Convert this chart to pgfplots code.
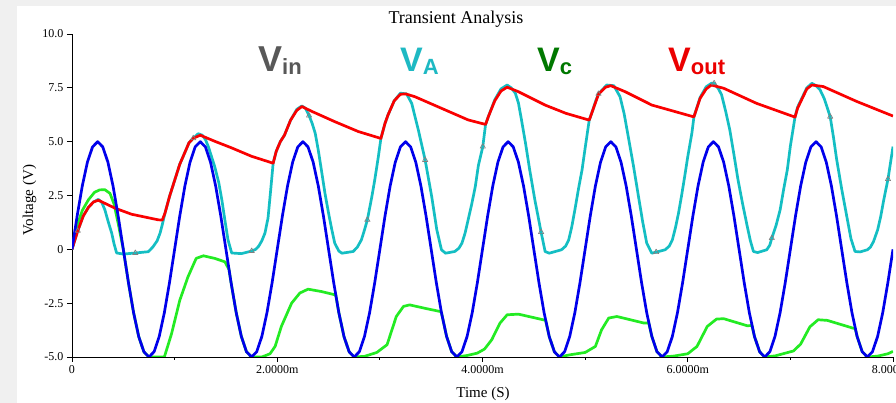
\documentclass[border=0pt]{standalone}
\usepackage{pgfplots}
\pgfplotsset{compat=1.18}
\usepackage{fontspec}
\setmainfont{Liberation Serif}
\newfontfamily\lsans{Liberation Sans}
\definecolor{vin}{RGB}{0,0,235}
\definecolor{va}{RGB}{20,190,195}
\definecolor{vc}{RGB}{35,235,35}
\definecolor{vout}{RGB}{250,0,0}
\definecolor{lgray}{RGB}{88,88,88}
\definecolor{lteal}{RGB}{30,185,195}
\definecolor{lgreen}{RGB}{0,120,0}
\definecolor{lred}{RGB}{235,0,0}
\definecolor{bg}{RGB}{240,240,240}
\begin{document}
\begin{tikzpicture}
\useasboundingbox (0pt,0pt) rectangle (896pt,403pt);
\fill[bg] (0pt,0pt) rectangle (896pt,403pt);
\fill[white] (17pt,0pt) rectangle (896pt,397pt);
\begin{axis}[
  at={(72pt,46pt)}, anchor=south west, scale only axis,
  width=821pt, height=323pt,
  xmin=0, xmax=8, ymin=-5, ymax=10,
  axis lines=left, axis line style={-, black, line width=0.8pt},
  tick align=outside,
  xtick={0,2,4,6,8}, xticklabels={0,2.0000m,4.0000m,6.0000m,8.0000m},
  minor xtick={1,3,5,7},
  ytick={-5,-2.5,0,2.5,5,7.5,10}, yticklabels={-5.0,-2.5,0,2.5,5.0,7.5,10.0},
  major tick length=5pt, minor tick length=3pt,
  tick style={black, line width=0.8pt},
  /pgf/number format/assume math mode=true,
  ticklabel style={font=\fontsize{12}{14}\selectfont},
  every axis plot/.append style={line width=2.7pt, line join=round, mark=none},
]
% Vc (green)
\addplot[vc] coordinates {
(0,0) (0.05,1.1) (0.1,1.8) (0.16,2.3) (0.22,2.65) (0.27,2.76) (0.32,2.77) (0.37,2.6) (0.41,2.1) (0.45,1.2) (0.5,0) (0.55,-1.545) (0.6,-2.939) (0.65,-4.045) (0.7,-4.755) (0.75,-5) (0.9,-5) (0.97,-3.92) (1.05,-2.37) (1.13,-1.28) (1.21,-0.42) (1.28,-0.3) (1.39,-0.42) (1.49,-0.58) (1.53,-0.94) (1.55,-1.545) (1.6,-2.939) (1.65,-4.045) (1.7,-4.755) (1.75,-5) (1.85,-5) (1.93,-4.85) (1.98,-4.5) (2.04,-3.58) (2.14,-2.5) (2.22,-2.03) (2.30,-1.85) (2.43,-1.96) (2.57,-2.12) (2.6,-2.939) (2.65,-4.045) (2.7,-4.755) (2.75,-5) (2.85,-4.97) (2.97,-4.79) (3.07,-4.43) (3.16,-3.12) (3.23,-2.65) (3.29,-2.58) (3.45,-2.75) (3.59,-2.89) (3.6,-2.939) (3.65,-4.045) (3.7,-4.755) (3.75,-5) (3.85,-4.93) (3.95,-4.82) (4.02,-4.63) (4.09,-4.2) (4.17,-3.43) (4.24,-3.04) (4.35,-3.01) (4.59,-3.27) (4.615,-3.3) (4.65,-4.045) (4.7,-4.755) (4.75,-5) (4.85,-4.9) (5.0,-4.79) (5.10,-4.51) (5.16,-3.74) (5.23,-3.19) (5.31,-3.12) (5.57,-3.42) (5.62,-3.42) (5.65,-4.045) (5.7,-4.755) (5.75,-5) (5.86,-4.96) (6.0,-4.85) (6.09,-4.51) (6.19,-3.58) (6.28,-3.24) (6.35,-3.22) (6.58,-3.55) (6.625,-3.536) (6.65,-4.045) (6.7,-4.755) (6.75,-5) (6.85,-4.95) (7.03,-4.72) (7.10,-4.4) (7.19,-3.6) (7.27,-3.27) (7.36,-3.3) (7.61,-3.66) (7.632,-3.68) (7.65,-4.045) (7.7,-4.755) (7.75,-5) (7.85,-4.96) (7.95,-4.85) (8.0,-4.74)
};
% VA (cyan)
\addplot[va] coordinates {
(0,0) (0.056,0.86) (0.11,1.55) (0.16,1.95) (0.21,2.2) (0.257,2.32) (0.29,2.18) (0.32,1.84) (0.355,1.25) (0.387,0.75) (0.41,0.25) (0.435,-0.17) (0.5,-0.22) (0.617,-0.17) (0.744,-0.11) (0.79,0.12) (0.83,0.4) (0.858,0.75) (0.88,1.15) (0.906,1.68)
(0.95,2.45) (1.0,3.2) (1.05,3.95) (1.10,4.5) (1.14,4.95) (1.182,5.16) (1.23,5.37) (1.27,5.3) (1.30,5.1) (1.33,4.75) (1.36,4.3) (1.39,3.85) (1.43,3.1) (1.46,2.3) (1.49,1.35) (1.52,0.44) (1.556,-0.17) (1.65,-0.2) (1.751,-0.08) (1.79,0.0) (1.82,0.15) (1.85,0.4) (1.88,0.75) (1.91,1.45) (1.935,2.7) (1.96,4.0) (1.99,4.55) (2.03,5.0)
(2.07,5.3) (2.13,6.0) (2.19,6.5) (2.24,6.66) (2.275,6.55) (2.31,6.21) (2.34,5.85) (2.37,5.39) (2.40,4.6) (2.43,3.69) (2.465,2.6) (2.50,1.68) (2.53,0.95) (2.56,0.29) (2.60,-0.08) (2.63,-0.18) (2.74,-0.1) (2.78,0.1) (2.82,0.44) (2.85,0.9) (2.878,1.37) (2.92,2.4) (2.95,3.22) (2.985,4.3) (3.01,5.15)
(3.05,5.85) (3.08,6.25) (3.14,6.9) (3.20,7.25) (3.26,7.22) (3.31,6.78) (3.375,5.54) (3.441,4.15) (3.505,2.45) (3.555,0.9) (3.60,-0.02) (3.64,-0.18) (3.73,-0.1) (3.77,0.05) (3.80,0.29) (3.83,0.75) (3.86,1.37) (3.895,2.1) (3.93,2.92) (3.96,3.9) (4.003,4.77) (4.03,5.8) (4.06,6.2)
(4.12,6.95) (4.18,7.45) (4.24,7.63) (4.28,7.5) (4.32,7.25) (4.35,6.8) (4.38,6.01) (4.42,4.9) (4.46,3.69) (4.51,2.3) (4.571,0.8) (4.61,-0.1) (4.65,-0.18) (4.77,-0.02) (4.81,0.15) (4.84,0.44) (4.87,1.05) (4.90,1.83) (4.935,2.8) (4.97,3.69) (5.0,4.7) (5.04,6.0) (5.07,6.4)
(5.10,6.85) (5.13,7.22) (5.21,7.63) (5.28,7.6) (5.34,7.09) (5.38,6.3) (5.42,5.24) (5.47,3.9) (5.52,2.45) (5.56,1.3) (5.60,0.29) (5.65,-0.18) (5.692,-0.13) (5.78,-0.02) (5.82,0.15) (5.85,0.44) (5.88,1.0) (5.91,1.68) (5.94,2.5) (5.97,3.38) (6.0,4.3) (6.04,5.39) (6.06,6.15)
(6.12,7.05) (6.18,7.55) (6.23,7.71) (6.257,7.71) (6.30,7.45) (6.33,7.17) (6.37,6.4) (6.41,5.54) (6.45,4.4) (6.49,3.22) (6.535,2.1) (6.58,1.06) (6.61,0.4) (6.64,-0.1) (6.68,-0.15) (6.77,-0.02) (6.80,0.2) (6.819,0.52) (6.86,1.1) (6.90,1.83) (6.935,2.8) (6.97,3.69) (7.0,4.8) (7.045,6.14)
(7.07,6.6) (7.11,7.0) (7.16,7.5) (7.21,7.71) (7.25,7.6) (7.29,7.40) (7.33,7.0) (7.388,6.16) (7.42,5.2) (7.45,4.2) (7.50,2.8) (7.55,1.52) (7.59,0.5) (7.63,-0.1) (7.68,-0.12) (7.75,-0.02) (7.78,0.1) (7.81,0.36) (7.85,0.9) (7.88,1.52) (7.91,2.3) (7.951,3.26) (7.975,4.0) (8.0,4.77)
};
% Vout (red)
\addplot[vout] coordinates {
(0,0) (0.056,0.86) (0.11,1.55) (0.16,1.95) (0.21,2.2) (0.257,2.28) (0.42,1.91) (0.58,1.63) (0.84,1.37) (0.88,1.36) (0.906,1.68)
(0.95,2.45) (1.0,3.2) (1.05,3.95) (1.10,4.5) (1.14,4.95) (1.182,5.16) (1.25,5.30) (1.39,5.02) (1.556,4.71) (1.75,4.32) (1.96,4.0) (1.99,4.55) (2.03,5.0)
(2.07,5.3) (2.13,6.0) (2.19,6.45) (2.24,6.63) (2.34,6.40) (2.56,5.93) (2.79,5.47) (3.01,5.15)
(3.05,5.85) (3.08,6.25) (3.14,6.9) (3.20,7.2) (3.25,7.22) (3.34,7.09) (3.6,6.55) (3.86,6.01) (4.03,5.8) (4.06,6.2)
(4.12,6.9) (4.18,7.35) (4.24,7.53) (4.35,7.32) (4.61,6.7) (4.81,6.32) (5.04,6.0) (5.07,6.4)
(5.10,6.8) (5.13,7.2) (5.20,7.53) (5.25,7.6) (5.39,7.32) (5.65,6.7) (6.06,6.15)
(6.12,7.01) (6.18,7.45) (6.23,7.63) (6.35,7.48) (6.67,6.78) (7.045,6.14)
(7.07,6.55) (7.11,6.95) (7.16,7.45) (7.21,7.63) (7.32,7.56) (7.65,6.86) (8.0,6.19)
};
% Vin (blue)
\addplot[vin] coordinates {
(0,0) (0.05,1.545) (0.1,2.939) (0.15,4.045) (0.2,4.755) (0.25,5) (0.3,4.755) (0.35,4.045) (0.4,2.939) (0.45,1.545) (0.5,0) (0.55,-1.545) (0.6,-2.939) (0.65,-4.045) (0.7,-4.755) (0.75,-5) (0.8,-4.755) (0.85,-4.045) (0.9,-2.939) (0.95,-1.545)
(1,0) (1.05,1.545) (1.1,2.939) (1.15,4.045) (1.2,4.755) (1.25,5) (1.3,4.755) (1.35,4.045) (1.4,2.939) (1.45,1.545) (1.5,0) (1.55,-1.545) (1.6,-2.939) (1.65,-4.045) (1.7,-4.755) (1.75,-5) (1.8,-4.755) (1.85,-4.045) (1.9,-2.939) (1.95,-1.545)
(2,0) (2.05,1.545) (2.1,2.939) (2.15,4.045) (2.2,4.755) (2.25,5) (2.3,4.755) (2.35,4.045) (2.4,2.939) (2.45,1.545) (2.5,0) (2.55,-1.545) (2.6,-2.939) (2.65,-4.045) (2.7,-4.755) (2.75,-5) (2.8,-4.755) (2.85,-4.045) (2.9,-2.939) (2.95,-1.545)
(3,0) (3.05,1.545) (3.1,2.939) (3.15,4.045) (3.2,4.755) (3.25,5) (3.3,4.755) (3.35,4.045) (3.4,2.939) (3.45,1.545) (3.5,0) (3.55,-1.545) (3.6,-2.939) (3.65,-4.045) (3.7,-4.755) (3.75,-5) (3.8,-4.755) (3.85,-4.045) (3.9,-2.939) (3.95,-1.545)
(4,0) (4.05,1.545) (4.1,2.939) (4.15,4.045) (4.2,4.755) (4.25,5) (4.3,4.755) (4.35,4.045) (4.4,2.939) (4.45,1.545) (4.5,0) (4.55,-1.545) (4.6,-2.939) (4.65,-4.045) (4.7,-4.755) (4.75,-5) (4.8,-4.755) (4.85,-4.045) (4.9,-2.939) (4.95,-1.545)
(5,0) (5.05,1.545) (5.1,2.939) (5.15,4.045) (5.2,4.755) (5.25,5) (5.3,4.755) (5.35,4.045) (5.4,2.939) (5.45,1.545) (5.5,0) (5.55,-1.545) (5.6,-2.939) (5.65,-4.045) (5.7,-4.755) (5.75,-5) (5.8,-4.755) (5.85,-4.045) (5.9,-2.939) (5.95,-1.545)
(6,0) (6.05,1.545) (6.1,2.939) (6.15,4.045) (6.2,4.755) (6.25,5) (6.3,4.755) (6.35,4.045) (6.4,2.939) (6.45,1.545) (6.5,0) (6.55,-1.545) (6.6,-2.939) (6.65,-4.045) (6.7,-4.755) (6.75,-5) (6.8,-4.755) (6.85,-4.045) (6.9,-2.939) (6.95,-1.545)
(7,0) (7.05,1.545) (7.1,2.939) (7.15,4.045) (7.2,4.755) (7.25,5) (7.3,4.755) (7.35,4.045) (7.4,2.939) (7.45,1.545) (7.5,0) (7.55,-1.545) (7.6,-2.939) (7.65,-4.045) (7.7,-4.755) (7.75,-5) (7.8,-4.755) (7.85,-4.045) (7.9,-2.939) (7.95,-1.545)
(8,0)
};
% sample markers on VA
\addplot[only marks, mark=triangle, mark size=3pt, color=gray, mark options={line width=0.7pt, fill=gray!30}] coordinates {
(0.056,0.86) (0.617,-0.17) (1.182,5.16) (1.751,-0.08) (2.310,6.21) (2.878,1.37) (3.441,4.15) (4.003,4.77) (4.571,0.80) (5.130,7.22) (5.692,-0.13) (6.257,7.71) (6.819,0.52) (7.388,6.16) (7.951,3.26)
};
\end{axis}
% title and axis labels
\node[anchor=base, font=\fontsize{18}{20}\selectfont] at (456pt,379pt) {Transient Analysis};
\node[anchor=base, font=\fontsize{15}{17}\selectfont] at (483pt,5pt) {Time (S)};
\node[anchor=base, rotate=90, font=\fontsize{15}{17}\selectfont] at (33pt,203pt) {Voltage (V)};
% series labels
\node[anchor=base west, inner sep=0pt, text=lgray, font=\lsans\bfseries\fontsize{36}{38}\selectfont] at (258pt,331pt) {V\raisebox{-3pt}{\fontsize{22}{24}\selectfont in}};
\node[anchor=base west, inner sep=0pt, text=lteal, font=\lsans\bfseries\fontsize{34}{38}\selectfont] at (400pt,331pt) {V\raisebox{-3pt}{\fontsize{22}{24}\selectfont A}};
\node[anchor=base west, inner sep=0pt, text=lgreen, font=\lsans\bfseries\fontsize{34}{38}\selectfont] at (537pt,331pt) {V\raisebox{-3pt}{\fontsize{22}{24}\selectfont c}};
\node[anchor=base west, inner sep=0pt, text=lred, font=\lsans\bfseries\fontsize{34}{38}\selectfont] at (668pt,331pt) {V\raisebox{-3pt}{\fontsize{22}{24}\selectfont out}};
\end{tikzpicture}
\end{document}
